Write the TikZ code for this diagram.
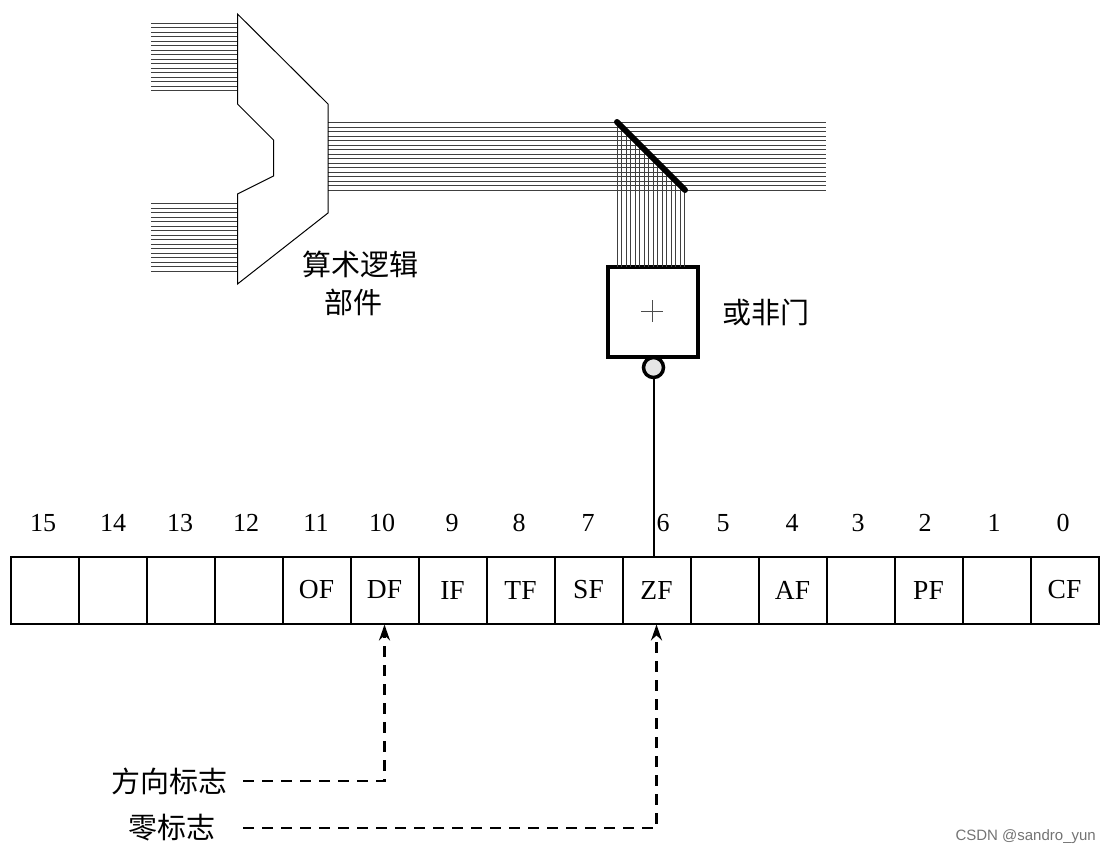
\documentclass[tikz,border=0pt]{standalone}
\usepackage{fontspec}
\usetikzlibrary{arrows.meta}
\setmainfont{Liberation Serif}
\newfontfamily\cjk{Noto Sans CJK SC}
\newfontfamily\marksans{Liberation Sans}
\begin{document}
\begin{tikzpicture}[x=1pt, y=-1pt,
    busline/.style={black!75, line width=1pt},
    bitcell/.style={draw, line width=2pt, minimum width=68pt, minimum height=67pt, inner sep=0pt, font=\fontsize{27.5}{30}\selectfont},
    bitnum/.style={font=\fontsize{26}{30}\selectfont, inner sep=0pt},
    cnlabel/.style={font=\cjk\fontsize{29}{38}\selectfont, inner sep=0pt, align=center},
    flagline/.style={-{Stealth[length=16pt,width=11pt]}, line width=2.4pt, dash pattern=on 11pt off 8pt}]
\useasboundingbox (0,0) rectangle (1110,855);

\def\busgap{4.5}

% Input and output buses
\foreach \i in {0,...,15} {
    \draw[busline] (151,{23+\i*\busgap}) -- (237.5,{23+\i*\busgap});
    \draw[busline] (151,{203.5+\i*\busgap}) -- (237.5,{203.5+\i*\busgap});
    \draw[busline] (328,{122.5+\i*\busgap}) -- (826,{122.5+\i*\busgap});
}

% Arithmetic unit outline
\draw[line width=1pt] (237.5,14) -- (328,104) -- (328,213) -- (237.5,284) -- (237.5,194)
    -- (273.5,176) -- (273.5,140) -- (237.5,104) -- cycle;
\node[cnlabel] (alulab) at (360,264) {算术逻辑};
\node[cnlabel] (alulab2) at (353.5,302) {部件};

% Gate with inverting output
\node[draw, line width=3.5pt, minimum size=90pt, inner sep=0pt] (gatebox) at (652.75,312) {};
\draw[line width=1pt, black!70] (641,311) -- (663,311) (652,300) -- (652,322);
\node[cnlabel, anchor=west] (gatelab) at (722,312) {或非门};
\node[draw, circle, line width=3.5pt, fill=black!10, minimum size=20pt, inner sep=0pt] (norbub) at (653.5,367.5) {};

% Taps from bus into the gate
\foreach \i in {0,...,15} {
    \draw[busline] ({617+\i*4.53},{122.5+\i*\busgap}) -- ({617+\i*4.53},267);
}
\draw[line width=6pt, line cap=round] (617,122) -- (685,190);

% Flag register cells
\foreach \lab/\name [count=\c from 0] in {/b15, /b14, /b13, /b12, OF/of, DF/df, IF/if, TF/tf,
        SF/sf, ZF/zf, /b5, AF/af, /b3, PF/pf, /b1, CF/cf} {
    \node[bitcell] (\name) at ({44.5+\c*68},590) {\lab};
}

% Bit numbers
\foreach \x/\lab in {43/15, 113/14, 180/13, 246/12, 316/11, 382/10, 452/9, 519/8,
        588/7, 663/6, 723/5, 792/4, 858/3, 925/2, 994/1, 1063/0} {
    \node[bitnum] (num\lab) at (\x,523) {\lab};
}

\draw[line width=2pt] (norbub.south) -- (norbub.south |- zf.north);

% Flag names with dashed leaders
\node[cnlabel, anchor=east] (dirlab) at (228,781) {方向标志};
\node[cnlabel, anchor=east] (zerolab) at (216,828) {零标志};
\draw[flagline, shorten <=15pt] (dirlab.east) -| (df.south);
\draw[flagline, shorten <=27pt] (zerolab.east) -| (zf.south);

\node[font=\marksans\fontsize{15}{16}\selectfont, text=black!55, anchor=east, inner sep=0pt] (marklab) at (1096,837) {CSDN @sandro\_yun};

\end{tikzpicture}
\end{document}
